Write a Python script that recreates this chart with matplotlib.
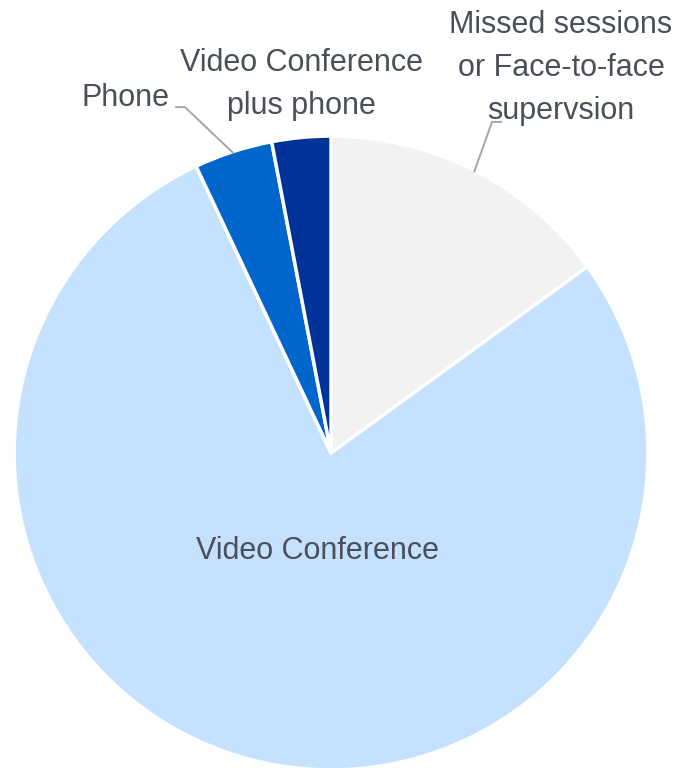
import matplotlib
matplotlib.use("Agg")
import matplotlib.pyplot as plt
import numpy as np

# Supervision delivery mode shares (%)
labels = ["Missed sessions\nor Face-to-face\nsupervsion", "Video Conference",
          "Phone", "Video Conference\nplus phone"]
shares = [15, 78, 4, 3]
colors = ["#F2F2F2", "#C4E1FF", "#0066CC", "#003399"]

plt.rcParams['font.family'] = ['Liberation Sans', 'DejaVu Sans']
text_color = "#4A4F59"
line_color = "#A6A6A6"

fig = plt.figure(figsize=(6.81, 7.68), dpi=100)
ax = fig.add_axes([0, 0, 1, 1])

# white edge stroke eats into the rim a little, so bump radius slightly
wedges, _ = ax.pie(shares, startangle=90, counterclock=False, colors=colors,
                   radius=1.006, center=(0, 0),
                   wedgeprops=dict(edgecolor="white", linewidth=2.5))

ax.set_xlim(-1.051, 1.111)
ax.set_ylim(-1.0, 1.438)
ax.set_aspect("auto")
ax.axis("off")


def edge_point(w, r=1.0):
    a = np.deg2rad((w.theta1 + w.theta2) / 2)
    return r * np.cos(a), r * np.sin(a)


fs = 22
ls = 1.55

# big slice label sits inside the pie
ax.text(-0.042, -0.31, labels[1], ha="center", va="center",
        fontsize=fs, color=text_color)

# missed sessions, leader from the slice edge up to the label
x0, y0 = edge_point(wedges[0])
ax.plot([x0, 0.511, 0.543], [y0, 1.051, 1.051], color=line_color, lw=1.4,
        solid_capstyle="butt")
ax.text(0.730, 1.222, labels[0], ha="center", va="center", fontsize=fs,
        color=text_color, linespacing=ls)

# phone
x0, y0 = edge_point(wedges[2])
ax.plot([x0, -0.464, -0.495], [y0, 1.098, 1.098], color=line_color, lw=1.4,
        solid_capstyle="butt")
ax.text(-0.513, 1.127, labels[2], ha="right", va="center", fontsize=fs,
        color=text_color)

# thin dark slice, label without leader
ax.text(-0.093, 1.169, labels[3], ha="center", va="center", fontsize=fs,
        color=text_color, linespacing=ls)

fig.savefig("out.png", dpi=100)
